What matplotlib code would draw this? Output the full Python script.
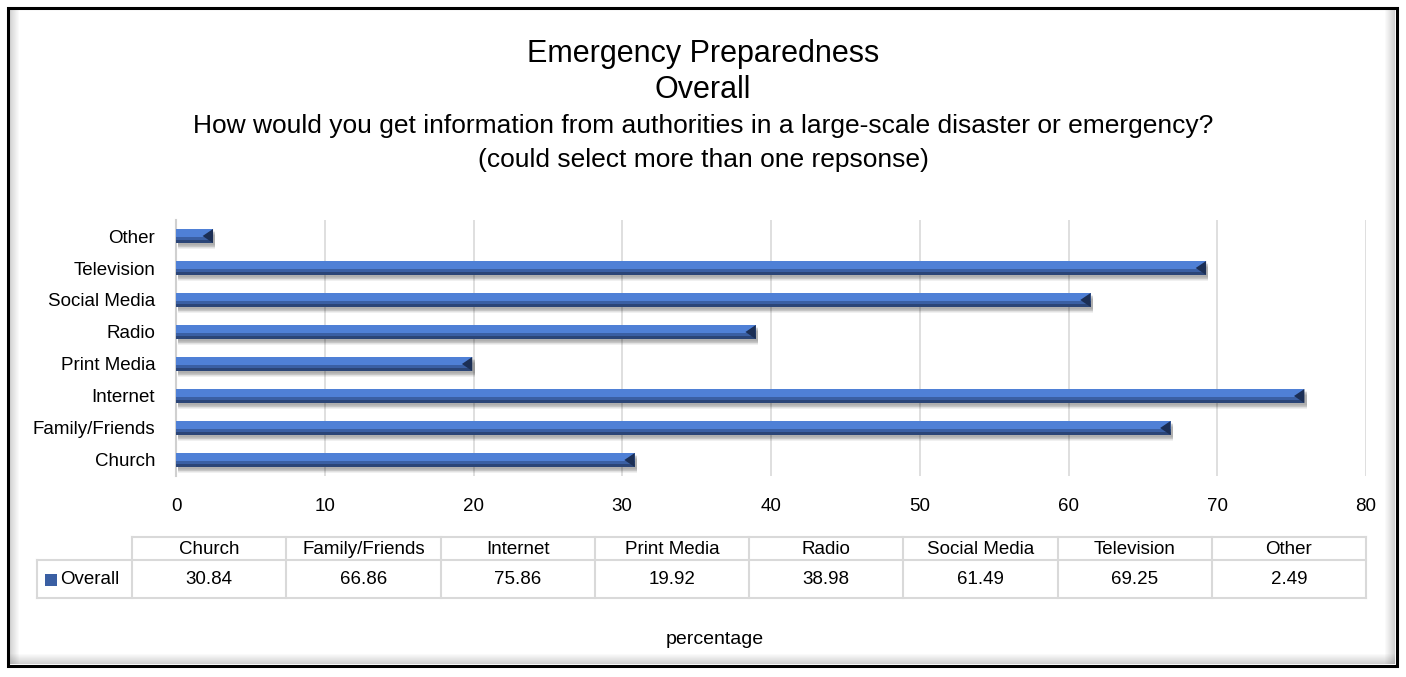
import matplotlib
matplotlib.use('Agg')
import matplotlib.pyplot as plt
from matplotlib.patches import Rectangle, Polygon
import numpy as np

plt.rcParams['font.family'] = ['Liberation Sans', 'DejaVu Sans']

categories = ['Church', 'Family/Friends', 'Internet', 'Print Media', 'Radio',
              'Social Media', 'Television', 'Other']
values = [30.84, 66.86, 75.86, 19.92, 38.98, 61.49, 69.25, 2.49]
series_name = 'Overall'
xticks = [0, 10, 20, 30, 40, 50, 60, 70, 80]

W, H = 1406, 677
fig = plt.figure(figsize=(W / 100, H / 100), dpi=100)
fig.patch.set_facecolor('white')


def fx(px):
    return px / W


def fy(py):
    return 1 - py / H


# outer frame with a soft inner shadow on left / right / bottom
for i in range(10):
    a = 0.28 * (1 - i / 10)
    c = (0.35, 0.35, 0.35, a)
    fig.patches.append(Rectangle((fx(9 + i), fy(664)), fx(1), fy(9) - fy(664),
                                 transform=fig.transFigure, color=c, lw=0))
    fig.patches.append(Rectangle((fx(1394 - i), fy(664)), fx(1), fy(9) - fy(664),
                                 transform=fig.transFigure, color=c, lw=0))
    fig.patches.append(Rectangle((fx(9), fy(664 - i)), fx(1386), fy(663) - fy(664),
                                 transform=fig.transFigure, color=c, lw=0))
fig.patches.append(Rectangle((fx(8), fy(666)), fx(1389), fy(8) - fy(666),
                             transform=fig.transFigure, fill=False, ec='black', lw=2.2))

# titles
fig.text(0.5, fy(54), 'Emergency Preparedness', ha='center', va='center', fontsize=22)
fig.text(0.5, fy(90), 'Overall', ha='center', va='center', fontsize=22)
fig.text(0.5, fy(126), 'How would you get information from authorities in a large-scale disaster or emergency?',
         ha='center', va='center', fontsize=19)
fig.text(0.5, fy(160), '(could select more than one repsonse)', ha='center', va='center', fontsize=19)

ax = fig.add_axes([fx(176), fy(476), fx(1366) - fx(176), fy(220) - fy(476)])
ax.set_xlim(0, 80)
ax.set_ylim(-0.5, len(categories) - 0.5)
ax.set_xticks(xticks)
ax.set_yticks(np.arange(len(categories)))
ax.set_yticklabels(categories)
ax.tick_params(length=0, labelsize=13.5)
ax.tick_params(axis='x', pad=16)
ax.tick_params(axis='y', pad=15)
ax.grid(axis='x', color='#d9d9d9', lw=1.2)
ax.set_axisbelow(True)
for s in ['top', 'right', 'bottom']:
    ax.spines[s].set_visible(False)
ax.spines['left'].set_color('#d0d0d0')
ax.spines['left'].set_linewidth(1.5)

y = np.arange(len(categories))
h = 0.44
# drop shadow under each bar
for k in range(6):
    ax.barh(y - 0.06 - k * 0.025, values, height=h, left=0.15,
            color='#000000', alpha=0.06, lw=0, zorder=2)
# bevelled bar: dark base with lighter upper face
ax.barh(y, values, height=h, color='#2b4577', lw=0, zorder=3)
ax.barh(y + h * 0.12, values, height=h * 0.76, color='#3a5fa3', lw=0, zorder=3)
ax.barh(y + h * 0.22, values, height=h * 0.56, color='#4f80d6', lw=0, zorder=3)
for yi, v in zip(y, values):
    ax.add_patch(Polygon([[v - 0.7, yi], [v, yi + h / 2], [v, yi - h / 2]],
                         closed=True, color='#1c2f55', lw=0, zorder=4))

# data table under the axis
col_edges = np.linspace(132, 1366, len(categories) + 1)
top, mid, bot = 537, 560, 598
lc = '#d9d9d9'
fig.add_artist(plt.Line2D([fx(132), fx(1366)], [fy(top), fy(top)], color=lc, lw=1.5))
fig.add_artist(plt.Line2D([fx(37), fx(1366)], [fy(mid), fy(mid)], color=lc, lw=1.5))
fig.add_artist(plt.Line2D([fx(37), fx(1366)], [fy(bot), fy(bot)], color=lc, lw=1.5))
fig.add_artist(plt.Line2D([fx(37), fx(37)], [fy(mid), fy(bot)], color=lc, lw=1.5))
for e in col_edges:
    fig.add_artist(plt.Line2D([fx(e), fx(e)], [fy(top), fy(bot)], color=lc, lw=1.5))
for i, (c, v) in enumerate(zip(categories, values)):
    cx = (col_edges[i] + col_edges[i + 1]) / 2
    fig.text(fx(cx), fy(549), c, ha='center', va='center', fontsize=13.5)
    fig.text(fx(cx), fy(580), f'{v:.2f}', ha='center', va='center', fontsize=13.5)
fig.patches.append(Rectangle((fx(45), fy(586)), fx(12), fy(574) - fy(586),
                             transform=fig.transFigure, color='#3a5fa3', lw=0))
fig.text(fx(60), fy(580), series_name, ha='left', va='center', fontsize=13.5)

fig.text(fx(715), fy(639), 'percentage', ha='center', va='center', fontsize=14)

fig.savefig('out.png', dpi=100)
